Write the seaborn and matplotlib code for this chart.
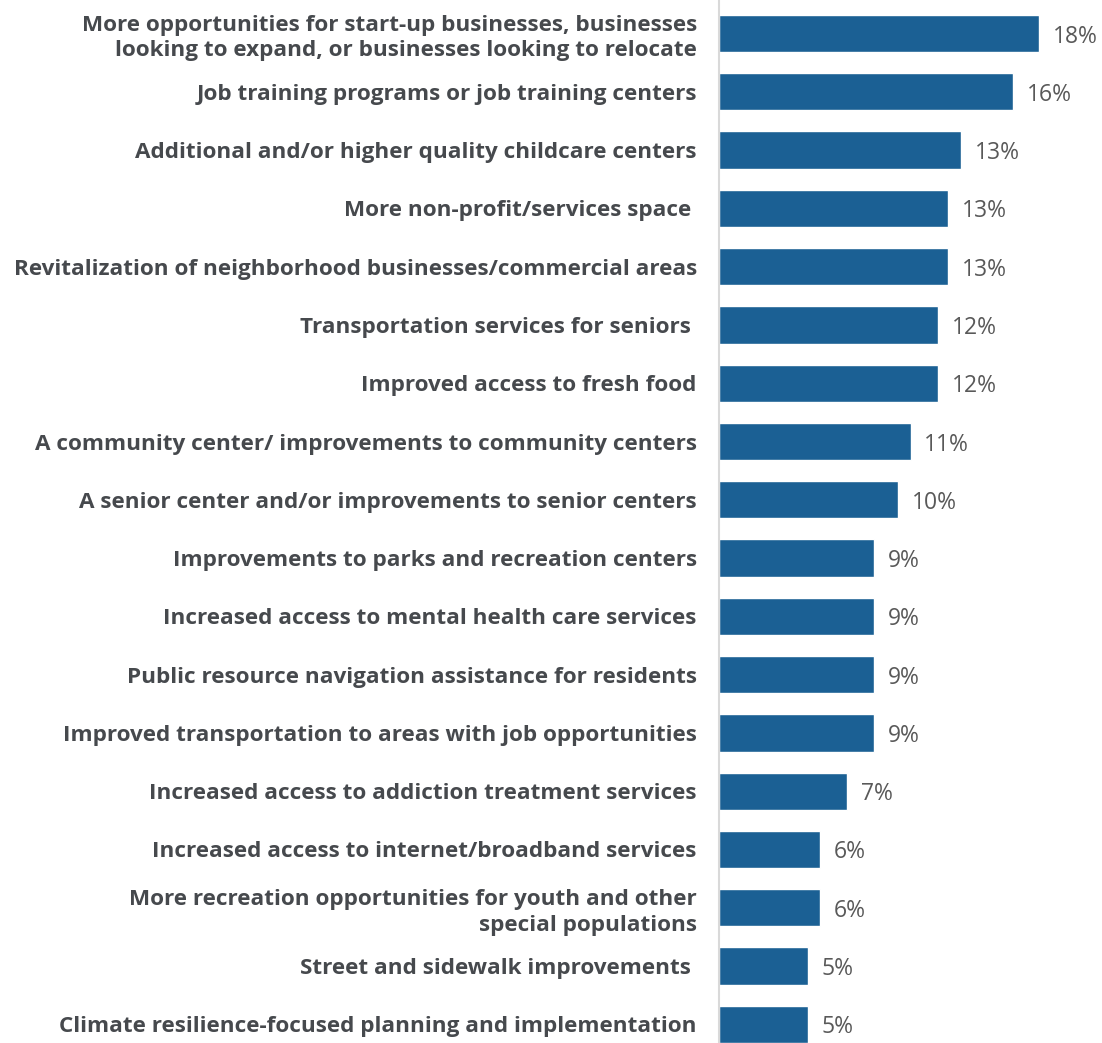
import matplotlib
matplotlib.use("Agg")
import matplotlib.pyplot as plt
import seaborn as sns
import pandas as pd

# survey items, top to bottom
categories = [
    "More opportunities for start-up businesses, businesses\nlooking to expand, or businesses looking to relocate",
    "Job training programs or job training centers",
    "Additional and/or higher quality childcare centers",
    "More non-profit/services space ",
    "Revitalization of neighborhood businesses/commercial areas",
    "Transportation services for seniors ",
    "Improved access to fresh food",
    "A community center/ improvements to community centers",
    "A senior center and/or improvements to senior centers",
    "Improvements to parks and recreation centers",
    "Increased access to mental health care services",
    "Public resource navigation assistance for residents",
    "Improved transportation to areas with job opportunities",
    "Increased access to addiction treatment services",
    "Increased access to internet/broadband services",
    "More recreation opportunities for youth and other\nspecial populations",
    "Street and sidewalk improvements ",
    "Climate resilience-focused planning and implementation",
]
# bar lengths (percent)
values = [17.7, 16.3, 13.4, 12.7, 12.7, 12.1, 12.1, 10.6, 9.9,
          8.6, 8.6, 8.6, 8.6, 7.1, 5.6, 5.6, 4.9, 4.9]
value_labels = ["18%", "16%", "13%", "13%", "13%", "12%", "12%", "11%", "10%",
                "9%", "9%", "9%", "9%", "7%", "6%", "6%", "5%", "5%"]

df = pd.DataFrame({"item": categories, "pct": values})

sns.set_style("white")
plt.rcParams["font.family"] = ["Open Sans", "DejaVu Sans"]

fig = plt.figure(figsize=(11.02, 10.43), dpi=100)
ax = fig.add_axes([0.6525, 0.0, 0.3475, 1.0])

sns.barplot(data=df, y="item", x="pct", orient="h", color="#1B6094",
            saturation=1, width=0.64, ax=ax)

for c in ax.containers:
    texts = ax.bar_label(c, labels=value_labels, padding=10, fontsize=16.5,
                         color="#595959")
    for t in texts:
        t.set_va("center_baseline")

ax.set_xlim(0, 21.2)
ax.set_ylim(17.32, -0.575)
ax.set_xlabel("")
ax.set_ylabel("")
ax.set_xticks([])
ax.tick_params(axis="y", length=0, pad=16)
for lbl in ax.get_yticklabels():
    lbl.set_fontsize(16.2)
    lbl.set_fontweight("bold")
    lbl.set_color("#46494d")
    lbl.set_linespacing(1.28)

for side in ["top", "right", "bottom"]:
    ax.spines[side].set_visible(False)
ax.spines["left"].set_color("#d9d9d9")
ax.spines["left"].set_linewidth(1.5)

fig.savefig("out.png", dpi=100)
